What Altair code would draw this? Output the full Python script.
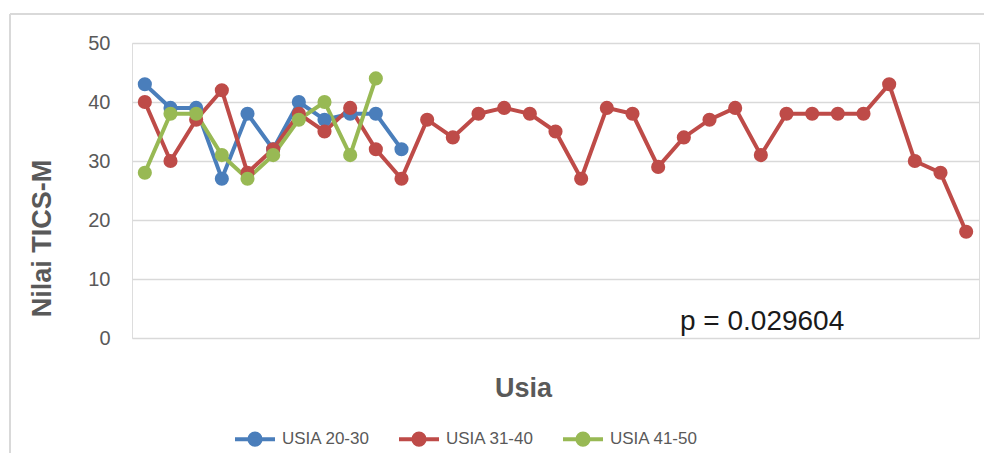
import altair as alt
import pandas as pd

series_names = ["USIA 20-30", "USIA 31-40", "USIA 41-50"]
usia_20_30 = [43, 39, 39, 27, 38, 32, 40, 37, 38, 38, 32]
usia_31_40 = [40, 30, 37, 42, 28, 32, 38, 35, 39, 32, 27, 37, 34, 38, 39, 38, 35,
              27, 39, 38, 29, 34, 37, 39, 31, 38, 38, 38, 38, 43, 30, 28, 18]
usia_41_50 = [28, 38, 38, 31, 27, 31, 37, 40, 31, 44]
colors = ["#4A7EBB", "#BE4B48", "#98B954"]
p_label = "p = 0.029604"

rows = []
for name, vals in zip(series_names, [usia_20_30, usia_31_40, usia_41_50]):
    for i, v in enumerate(vals):
        rows.append({"idx": i + 1, "val": v, "series": name})
df = pd.DataFrame(rows)

x_enc = alt.X("idx:O", scale=alt.Scale(type="point", padding=0.5,
                                         domain=list(range(1, len(usia_31_40) + 1))),
              axis=alt.Axis(title="Usia", labels=False, ticks=False, domain=False, grid=False,
                            titleFontSize=27, titleFont="Liberation Sans", titleFontWeight="bold",
                            titleColor="#595959", titleX=391, titleY=50, titleBaseline="middle",
                            titleAnchor="start", titleAlign="center"))
y_enc = alt.Y("val:Q", scale=alt.Scale(domain=[0, 50]),
              axis=alt.Axis(title="Nilai TICS-M", values=[0, 10, 20, 30, 40, 50], ticks=False,
                            domain=False, grid=True, gridColor="#D9D9D9", gridWidth=1.3,
                            labelFontSize=20, labelFont="Liberation Sans", labelColor="#595959",
                            labelPadding=22,
                            titleFontSize=27, titleFont="Liberation Sans", titleFontWeight="bold",
                            titleColor="#595959", titleAngle=270, titleX=-90, titleY=195,
                            titleAlign="center", titleBaseline="middle"))
color_enc = alt.Color("series:N", scale=alt.Scale(domain=series_names, range=colors),
                      legend=alt.Legend(title=None, orient="none", direction="horizontal",
                                        legendX=101, legendY=374,
                                        symbolType="M-1,0L1,0M0.28,0A0.28,0.28,0,1,1,-0.28,0A0.28,0.28,0,1,1,0.28,0",
                                        symbolSize=1600, symbolStrokeWidth=4, symbolOpacity=1,
                                        labelFontSize=17, labelFont="Liberation Sans",
                                        labelColor="#595959", labelOffset=5, columnPadding=21,
                                        padding=0))

base = alt.Chart(df).encode(x=x_enc, y=y_enc, color=color_enc)
lines = base.mark_line(strokeWidth=4)
points = base.mark_point(filled=True, size=200, opacity=1)

ptext = alt.Chart(pd.DataFrame({"t": [p_label]})).mark_text(
    align="left", baseline="middle", fontSize=28, font="Liberation Sans", color="#1A1A1A"
).encode(text="t:N", x=alt.value(548), y=alt.value(279))

frame_left = alt.Chart(pd.DataFrame({"a": [0]})).mark_rule(color="#D9D9D9", strokeWidth=2).encode(
    x=alt.value(-122), y=alt.value(-29), y2=alt.value(420))
frame_top = alt.Chart(pd.DataFrame({"a": [0]})).mark_rule(color="#D9D9D9", strokeWidth=2).encode(
    x=alt.value(-122), x2=alt.value(860), y=alt.value(-29))

chart = alt.layer(frame_left, frame_top, lines, points, ptext).properties(
    width=847, height=295,
    autosize=alt.AutoSizeParams(type="none"),
    padding={"left": 124, "top": 35, "right": 5, "bottom": 115},
).configure_view(stroke=None).configure(background="white")

chart.save("out.html", embed_options={"renderer": "svg", "actions": False})
